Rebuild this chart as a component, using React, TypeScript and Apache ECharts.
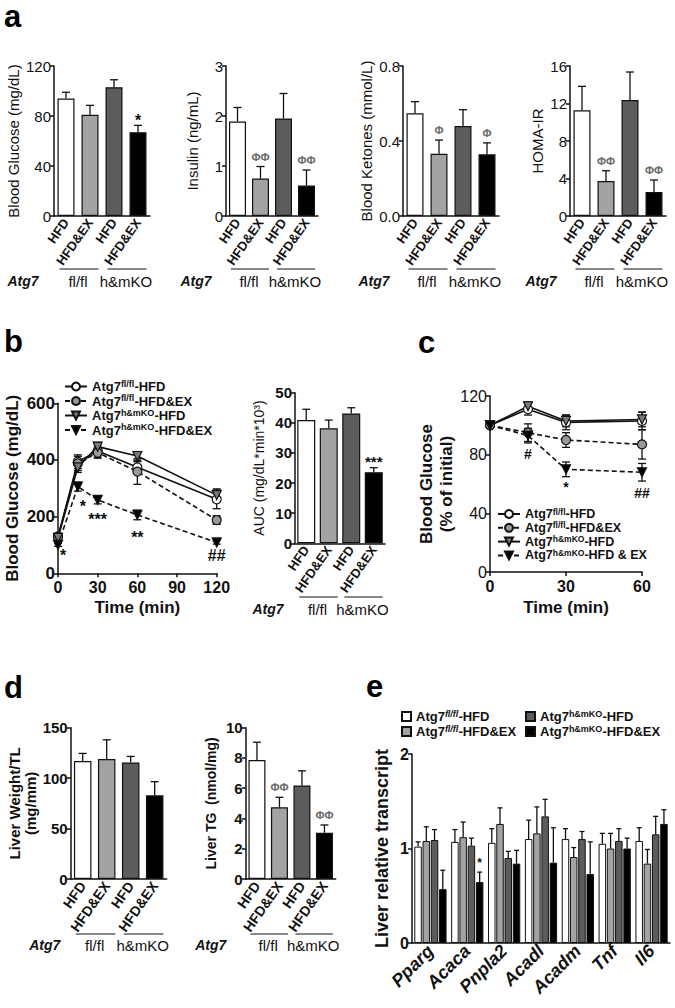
import React, { useEffect, useRef } from 'react';
import * as echarts from 'echarts';

const FONT = '"Liberation Sans", Arial, Helvetica, sans-serif';
const INK = '#111111';
const PHI = '#6a6a6a';

// ---------- shared ----------
const BAR_CATS = ['HFD', 'HFD&EX', 'HFD', 'HFD&EX'];
const GENOTYPES = ['fl/fl', 'h&mKO'];
const BAR_COLORS = ['#ffffff', '#a3a3a3', '#5c5c5c', '#000000'];

// ---------- panel a ----------
const glucoseMean = [94, 81, 103, 67];
const glucoseErr = [5, 7.5, 6, 5.5];
const glucoseMarks = ['', '', '', '*'];
const insulinMean = [1.89, 0.75, 1.95, 0.61];
const insulinErr = [0.28, 0.24, 0.5, 0.31];
const insulinMarks = ['', 'ΦΦ', '', 'ΦΦ'];
const ketoneMean = [0.548, 0.332, 0.48, 0.329];
const ketoneErr = [0.062, 0.073, 0.087, 0.061];
const ketoneMarks = ['', 'Φ', '', 'Φ'];
const homaMean = [11.27, 3.73, 12.37, 2.56];
const homaErr = [2.56, 1.1, 2.99, 1.28];
const homaMarks = ['', 'ΦΦ', '', 'ΦΦ'];

// ---------- panel b (GTT) ----------
const gttTime = [0, 15, 30, 60, 120];
const gttFlHfd = [130, 394, 432, 374, 261];
const gttFlHfdErr = [10, 24, 22, 20, 33];
const gttFlEx = [128, 388, 426, 359, 188];
const gttFlExErr = [8, 25, 20, 45, 15];
const gttKoHfd = [125, 374, 447, 414, 276];
const gttKoHfdErr = [8, 18, 15, 15, 22];
const gttKoEx = [100, 306, 259, 206, 109];
const gttKoExErr = [5, 16, 14, 17, 6];
const gttKoExMarks = ['*', '*', '***', '**', '##'];
const aucMean = [40.9, 38.2, 43.1, 23.6];
const aucErr = [3.6, 2.7, 1.9, 1.5];
const aucMarks = ['', '', '', '***'];

// ---------- panel c (ITT) ----------
const ittTime = [0, 15, 30, 60];
const ittFlHfd = [100, 111, 102, 103];
const ittFlHfdErr = [0, 4, 5, 6];
const ittFlEx = [100, 95, 90, 87];
const ittFlExErr = [0, 6, 5, 10];
const ittKoHfd = [100, 113, 103, 104];
const ittKoHfdErr = [0, 3, 4, 5];
const ittKoEx = [100, 93, 70, 68];
const ittKoExErr = [0, 5, 5, 6];
const ittKoExMarks = ['', '#', '*', '##'];

// ---------- panel d ----------
const liverWtMean = [117, 119, 115.5, 83];
const liverWtErr = [7.5, 19, 6, 13.5];
const liverWtMarks = ['', '', '', ''];
const liverTgMean = [7.87, 4.74, 6.18, 3.06];
const liverTgErr = [1.17, 0.66, 0.97, 0.51];
const liverTgMarks = ['', 'ΦΦ', '', 'ΦΦ'];

// ---------- panel e ----------
const genes = ['Pparg', 'Acaca', 'Pnpla2', 'Acadl', 'Acadm', 'Tnf', 'Il6'];
const eFlHfd = [1.02, 1.07, 1.06, 1.1, 1.1, 1.05, 1.08];
const eFlHfdErr = [0.05, 0.13, 0.15, 0.2, 0.11, 0.11, 0.14];
const eFlEx = [1.08, 1.12, 1.26, 1.16, 0.91, 1.0, 0.84];
const eFlExErr = [0.15, 0.16, 0.17, 0.28, 0.1, 0.16, 0.15];
const eKoHfd = [1.09, 1.03, 0.9, 1.34, 1.1, 1.08, 1.15];
const eKoHfdErr = [0.11, 0.08, 0.07, 0.18, 0.08, 0.13, 0.19];
const eKoEx = [0.57, 0.645, 0.84, 0.85, 0.73, 1.0, 1.26];
const eKoExErr = [0.2, 0.105, 0.14, 0.37, 0.34, 0.11, 0.15];
const eKoExMarks = ['', '*', '', '', '', '', ''];

const LEGEND_TEXT: Record<string, string> = {
  gFlHfd: '{t|Atg7}{s|fl/fl}{t|-HFD}',
  gFlEx: '{t|Atg7}{s|fl/fl}{t|-HFD&EX}',
  gKoHfd: '{t|Atg7}{s|h&mKO}{t|-HFD}',
  gKoEx: '{t|Atg7}{s|h&mKO}{t|-HFD&EX}',
  iFlHfd: '{t|Atg7}{s|fl/fl}{t|-HFD}',
  iFlEx: '{t|Atg7}{s|fl/fl}{t|-HFD&EX}',
  iKoHfd: '{t|Atg7}{s|h&mKO}{t|-HFD}',
  iKoEx: '{t|Atg7}{s|h&mKO}{t|-HFD & EX}',
  eFlHfd: '{t|Atg7}{si|fl/fl}{t|-HFD}',
  eFlEx: '{t|Atg7}{si|fl/fl}{t|-HFD&EX}',
  eKoHfd: '{t|Atg7}{s|h&mKO}{t|-HFD}',
  eKoEx: '{t|Atg7}{s|h&mKO}{t|-HFD&EX}',
};

function txtStyle(text: string, size: number, weight: string, fill: string, align = 'center', valign = 'middle', italic = false) {
  return {
    text,
    fill,
    font: `${italic ? 'italic ' : ''}${weight} ${size}px ${FONT}`,
    fontSize: size,
    fontWeight: weight,
    fontFamily: FONT,
    fontStyle: italic ? 'italic' : 'normal',
    align,
    verticalAlign: valign,
    textAlign: align,
    textVerticalAlign: valign,
  };
}

function upErr(marks: string[], mSize: number, mColor: string, mOff: number, cap: number, offPx = 0) {
  return (params: any, api: any) => {
    const k = params.dataIndex;
    const c = api.value(0);
    const v = api.value(1);
    const e = api.value(2);
    const p0 = api.coord([c, v]);
    const p1 = api.coord([c, v + e]);
    const x = p0[0] + offPx;
    const ls = { stroke: INK, lineWidth: 1.3 };
    const children: any[] = [
      { type: 'line', shape: { x1: x, y1: p0[1], x2: x, y2: p1[1] }, style: ls },
      { type: 'line', shape: { x1: x - cap, y1: p1[1], x2: x + cap, y2: p1[1] }, style: ls },
    ];
    const m = marks[k];
    if (m) {
      children.push({ type: 'text', x, y: p1[1] - mOff, style: txtStyle(m, mSize, 'bold', mColor) });
    }
    return { type: 'group', children };
  };
}

function bothErr(marks: string[] | null, offs: number[][] | null, mSize: number, cap: number) {
  return (params: any, api: any) => {
    const k = params.dataIndex;
    const t = api.value(0);
    const v = api.value(1);
    const e = api.value(2);
    const c = api.coord([t, v]);
    const lo = api.coord([t, v - e]);
    const hi = api.coord([t, v + e]);
    const ls = { stroke: INK, lineWidth: 1.3 };
    const children: any[] = [];
    if (e > 0) {
      children.push({ type: 'line', shape: { x1: c[0], y1: lo[1], x2: c[0], y2: hi[1] }, style: ls });
      children.push({ type: 'line', shape: { x1: c[0] - cap, y1: lo[1], x2: c[0] + cap, y2: lo[1] }, style: ls });
      children.push({ type: 'line', shape: { x1: c[0] - cap, y1: hi[1], x2: c[0] + cap, y2: hi[1] }, style: ls });
    }
    if (marks && offs && marks[k]) {
      children.push({ type: 'text', x: c[0] + offs[k][0], y: c[1] + offs[k][1], style: txtStyle(marks[k], mSize, 'bold', INK) });
    }
    return { type: 'group', children };
  };
}

export default function App() {
  const ref = useRef<HTMLDivElement>(null);

  useEffect(() => {
    if (!ref.current) return;
    const chart = echarts.init(ref.current, undefined, { renderer: 'svg' });

    const grids: any[] = [];
    const xAxes: any[] = [];
    const yAxes: any[] = [];
    const series: any[] = [];
    const graphics: any[] = [];

    const axisLine = { show: true, lineStyle: { color: INK, width: 1.5 } };
    const axisTick = { show: true, length: 4, lineStyle: { color: INK, width: 1.5 } };

    function barPanel(p: any) {
      const i = grids.length;
      grids.push({ left: p.left, top: p.top, width: p.width, height: p.height });
      xAxes.push({
        gridIndex: i, type: 'category', data: BAR_CATS, boundaryGap: true,
        axisLine, axisTick: { show: false },
        axisLabel: { interval: 0, rotate: 55, margin: 4, color: INK, fontFamily: FONT, fontSize: p.catSize, fontWeight: 'bold' },
      });
      yAxes.push({
        gridIndex: i, type: 'value', min: 0, max: p.max, interval: p.interval,
        axisLine, axisTick, splitLine: { show: false },
        axisLabel: { margin: 3, color: INK, fontFamily: FONT, fontSize: p.tickSize, fontWeight: p.tickWeight, formatter: p.fmt },
        name: p.name, nameLocation: 'middle', nameGap: p.nameGap,
        nameTextStyle: { color: INK, fontFamily: FONT, fontSize: p.titleSize, fontWeight: p.titleWeight, lineHeight: p.titleLH || p.titleSize + 2 },
      });
      series.push({
        type: 'bar', xAxisIndex: i, yAxisIndex: i, barWidth: p.barWidth, z: 2,
        data: p.mean.map((v: number, k: number) => ({ value: v, itemStyle: { color: BAR_COLORS[k] } })),
        itemStyle: { borderColor: INK, borderWidth: 1.2 },
      });
      series.push({
        type: 'custom', xAxisIndex: i, yAxisIndex: i, z: 3, encode: { x: 0, y: 1 },
        data: p.mean.map((v: number, k: number) => [k, v, p.err[k]]),
        renderItem: upErr(p.marks, p.markSize, p.markColor, p.markOff, 4),
      });
      const band = p.width / 4;
      const cx = (k: number) => p.left + band * (k + 0.5);
      const hw = p.barWidth / 2;
      const gl = { stroke: INK, lineWidth: 1 };
      graphics.push({ type: 'line', shape: { x1: cx(0) - hw + 2, y1: p.gy, x2: cx(1) + hw, y2: p.gy }, style: gl });
      graphics.push({ type: 'line', shape: { x1: cx(2) - hw + 2, y1: p.gy, x2: cx(3) + hw, y2: p.gy }, style: gl });
      graphics.push({ type: 'text', x: p.left - p.atg, y: p.gty, style: txtStyle('Atg7', 14, 'bold', INK, 'center', 'middle', true) });
      graphics.push({ type: 'text', x: (cx(0) + cx(1)) / 2, y: p.gty, style: txtStyle(GENOTYPES[0], 15, 'normal', INK) });
      graphics.push({ type: 'text', x: (cx(2) + cx(3)) / 2, y: p.gty, style: txtStyle(GENOTYPES[1], 15, 'normal', INK) });
    }

    const aCommon = { top: 66, height: 150, barWidth: 17, catSize: 13, tickSize: 15, tickWeight: 'normal', titleSize: 15, titleWeight: 'normal', gy: 269, gty: 281 };
    barPanel({ ...aCommon, left: 54, width: 96, max: 120, interval: 40, name: 'Blood Glucose (mg/dL)', nameGap: 30, mean: glucoseMean, err: glucoseErr, marks: glucoseMarks, markSize: 16, markColor: INK, markOff: 5, atg: 31 });
    barPanel({ ...aCommon, left: 226, width: 92, max: 3, interval: 1, name: 'Insulin (ng/mL)', nameGap: 25, mean: insulinMean, err: insulinErr, marks: insulinMarks, markSize: 11, markColor: PHI, markOff: 10, atg: 30 });
    barPanel({ ...aCommon, left: 403, width: 96, max: 0.8, interval: 0.4, fmt: (v: number) => v.toFixed(1), name: 'Blood Ketones (mmol/L)', nameGap: 27, mean: ketoneMean, err: ketoneErr, marks: ketoneMarks, markSize: 11, markColor: PHI, markOff: 10, atg: 29 });
    barPanel({ ...aCommon, left: 570, width: 96, max: 16, interval: 4, name: 'HOMA-IR', nameGap: 24, mean: homaMean, err: homaErr, marks: homaMarks, markSize: 11, markColor: PHI, markOff: 10, atg: 29 });

    function linePanel(p: any) {
      const i = grids.length;
      grids.push({ left: p.left, top: p.top, width: p.width, height: p.height });
      xAxes.push({
        gridIndex: i, type: 'value', min: 0, max: p.xmax, interval: p.xint,
        axisLine, axisTick, splitLine: { show: false },
        axisLabel: { margin: 6, color: INK, fontFamily: FONT, fontSize: 16, fontWeight: 'bold' },
        name: 'Time (min)', nameLocation: 'middle', nameGap: p.xNameGap,
        nameTextStyle: { color: INK, fontFamily: FONT, fontSize: 17, fontWeight: 'bold' },
      });
      yAxes.push({
        gridIndex: i, type: 'value', min: 0, max: p.ymax, interval: p.yint,
        axisLine, axisTick, splitLine: { show: false },
        axisLabel: { margin: 3, color: INK, fontFamily: FONT, fontSize: p.tickSize, fontWeight: p.tickWeight },
        name: p.name, nameLocation: 'middle', nameGap: p.nameGap,
        nameTextStyle: { color: INK, fontFamily: FONT, fontSize: 17, fontWeight: 'bold', lineHeight: 20 },
      });
      const defs = [
        { name: p.names[0], vals: p.s[0], err: p.e[0], symbol: 'circle', rot: 0, fill: '#ffffff', dash: 'solid' },
        { name: p.names[1], vals: p.s[1], err: p.e[1], symbol: 'circle', rot: 0, fill: '#999999', dash: [5, 3] },
        { name: p.names[2], vals: p.s[2], err: p.e[2], symbol: 'triangle', rot: 180, fill: '#7a7a7a', dash: 'solid' },
        { name: p.names[3], vals: p.s[3], err: p.e[3], symbol: 'triangle', rot: 180, fill: '#000000', dash: [5, 3] },
      ];
      defs.forEach((d, k) => {
        series.push({
          type: 'custom', xAxisIndex: i, yAxisIndex: i, z: 3, encode: { x: 0, y: 1 },
          data: p.t.map((t: number, j: number) => [t, d.vals[j], d.err[j]]),
          renderItem: bothErr(k === 3 ? p.marks : null, k === 3 ? p.markOffs : null, p.markSize, 4),
        });
      });
      defs.forEach((d) => {
        series.push({
          type: 'line', name: d.name, xAxisIndex: i, yAxisIndex: i, z: 4,
          data: p.t.map((t: number, j: number) => [t, d.vals[j]]),
          symbol: d.symbol, symbolSize: 9, symbolRotate: d.rot, showSymbol: true,
          lineStyle: { color: INK, width: 1.6, type: d.dash },
          itemStyle: { color: d.fill, borderColor: INK, borderWidth: 1.2 },
        });
      });
    }

    linePanel({
      left: 58, top: 403.3, width: 158.7, height: 170, xmax: 120, xint: 30, xNameGap: 26,
      ymax: 600, yint: 200, tickSize: 17, tickWeight: 'bold', name: 'Blood Glucose (mg/dL)', nameGap: 34,
      t: gttTime, names: ['gFlHfd', 'gFlEx', 'gKoHfd', 'gKoEx'],
      s: [gttFlHfd, gttFlEx, gttKoHfd, gttKoEx], e: [gttFlHfdErr, gttFlExErr, gttKoHfdErr, gttKoExErr],
      marks: gttKoExMarks, markOffs: [[5, 11], [5, 20], [0, 20], [0, 23], [0, 13]], markSize: 16,
    });

    barPanel({
      left: 295, top: 392.7, width: 90, height: 150.6, barWidth: 18, catSize: 13, tickSize: 15, tickWeight: 'bold',
      titleSize: 14, titleWeight: 'normal', max: 50, interval: 10, name: 'AUC (mg/dL*min*10³)', nameGap: 28,
      mean: aucMean, err: aucErr, marks: aucMarks, markSize: 15, markColor: INK, markOff: 6, atg: 27, gy: 597, gty: 609,
    });

    linePanel({
      left: 490, top: 396, width: 152, height: 176, xmax: 60, xint: 30, xNameGap: 27,
      ymax: 120, yint: 40, tickSize: 16, tickWeight: 'normal', name: 'Blood Glucose\n(% of initial)', nameGap: 30,
      t: ittTime, names: ['iFlHfd', 'iFlEx', 'iKoHfd', 'iKoEx'],
      s: [ittFlHfd, ittFlEx, ittKoHfd, ittKoEx], e: [ittFlHfdErr, ittFlExErr, ittKoHfdErr, ittKoExErr],
      marks: ittKoExMarks, markOffs: [[0, 0], [0, 18], [0, 18], [0, 21]], markSize: 14,
    });

    const dCommon = { top: 727.7, height: 151.3, catSize: 14, tickSize: 15, tickWeight: 'bold', titleWeight: 'bold', gy: 934, gty: 945 };
    barPanel({ ...dCommon, left: 70.7, width: 96, barWidth: 17.5, max: 150, interval: 50, name: 'Liver Weight/TL\n(mg/mm)', titleSize: 15, titleLH: 16, nameGap: 31, mean: liverWtMean, err: liverWtErr, marks: liverWtMarks, markSize: 11, markColor: PHI, markOff: 10, atg: 26 });
    barPanel({ ...dCommon, left: 245.7, width: 90, barWidth: 17, max: 10, interval: 2, name: 'Liver TG  (nmol/mg)', titleSize: 14, nameGap: 27, mean: liverTgMean, err: liverTgErr, marks: liverTgMarks, markSize: 11, markColor: PHI, markOff: 10, atg: 35 });

    {
      const i = grids.length;
      grids.push({ left: 412, top: 754, width: 258, height: 189 });
      xAxes.push({
        gridIndex: i, type: 'category', data: genes, boundaryGap: true, axisLine, axisTick: { show: false },
        axisLabel: { interval: 0, rotate: 45, margin: 5, color: INK, fontFamily: FONT, fontSize: 18, fontWeight: 'bold', fontStyle: 'italic' },
      });
      yAxes.push({
        gridIndex: i, type: 'value', min: 0, max: 2, interval: 1, axisLine, axisTick, splitLine: { show: false },
        axisLabel: { margin: 3, color: INK, fontFamily: FONT, fontSize: 16, fontWeight: 'bold' },
        name: 'Liver relative transcript', nameLocation: 'middle', nameGap: 21,
        nameTextStyle: { color: INK, fontFamily: FONT, fontSize: 18, fontWeight: 'bold' },
      });
      const eSeries = [
        { name: 'eFlHfd', vals: eFlHfd, err: eFlHfdErr },
        { name: 'eFlEx', vals: eFlEx, err: eFlExErr },
        { name: 'eKoHfd', vals: eKoHfd, err: eKoHfdErr },
        { name: 'eKoEx', vals: eKoEx, err: eKoExErr },
      ];
      const bw = 7.5;
      const step = bw * 1.1;
      eSeries.forEach((s, k) => {
        series.push({
          type: 'bar', name: s.name, xAxisIndex: i, yAxisIndex: i, data: s.vals, barWidth: bw, barGap: '10%', z: 2,
          itemStyle: { color: BAR_COLORS[k], borderColor: INK, borderWidth: 1 },
        });
      });
      eSeries.forEach((s, k) => {
        series.push({
          type: 'custom', xAxisIndex: i, yAxisIndex: i, z: 3, encode: { x: 0, y: 1 },
          data: s.vals.map((v, j) => [j, v, s.err[j]]),
          renderItem: upErr(k === 3 ? eKoExMarks : [], 12, INK, 9, 2.5, (k - 1.5) * step),
        });
      });
    }

    [['a', 4, 16], ['b', 4, 341], ['c', 418, 342], ['d', 4, 687], ['e', 366, 686]].forEach(([l, x, y]) => {
      graphics.push({ type: 'text', x, y, style: txtStyle(l as string, 31, 'bold', '#000', 'left', 'middle') });
    });

    const rich13 = {
      t: { fontSize: 13, fontWeight: 'bold', fontFamily: FONT, color: INK, lineHeight: 15 },
      s: { fontSize: 9, fontWeight: 'bold', fontFamily: FONT, color: INK, lineHeight: 8, verticalAlign: 'top' },
      si: { fontSize: 9, fontWeight: 'bold', fontStyle: 'italic', fontFamily: FONT, color: INK, lineHeight: 8, verticalAlign: 'top' },
    };
    const rich12 = {
      t: { fontSize: 12.5, fontWeight: 'bold', fontFamily: FONT, color: INK, lineHeight: 14 },
      s: { fontSize: 8.5, fontWeight: 'bold', fontFamily: FONT, color: INK, lineHeight: 8, verticalAlign: 'top' },
    };
    const fmt = (n: string) => LEGEND_TEXT[n];
    const legendBase = { orient: 'vertical', padding: 0, selectedMode: false, formatter: fmt };

    const option: any = {
      animation: false,
      backgroundColor: '#ffffff',
      textStyle: { fontFamily: FONT },
      grid: grids,
      xAxis: xAxes,
      yAxis: yAxes,
      series,
      graphic: graphics,
      legend: [
        { ...legendBase, data: ['gFlHfd', 'gFlEx', 'gKoHfd', 'gKoEx'], left: 64, top: 379, itemWidth: 22, itemHeight: 10, itemGap: 0.5, textStyle: { rich: rich13 } },
        { ...legendBase, data: ['iFlHfd', 'iFlEx', 'iKoHfd', 'iKoEx'], left: 497, top: 507, itemWidth: 22, itemHeight: 10, itemGap: 0.3, textStyle: { rich: rich12 } },
        { ...legendBase, data: ['eFlHfd', 'eFlEx'], left: 401, top: 709, icon: 'rect', itemWidth: 9, itemHeight: 9, itemGap: 1, textStyle: { rich: rich13 } },
        { ...legendBase, data: ['eKoHfd', 'eKoEx'], left: 525, top: 709, icon: 'rect', itemWidth: 9, itemHeight: 9, itemGap: 1, textStyle: { rich: rich13 } },
      ],
    };

    chart.setOption(option);
    return () => chart.dispose();
  }, []);

  return <div ref={ref} style={{ position: 'absolute', left: 0, top: 0, width: 675, height: 1008, background: '#fff' }} />;
}
